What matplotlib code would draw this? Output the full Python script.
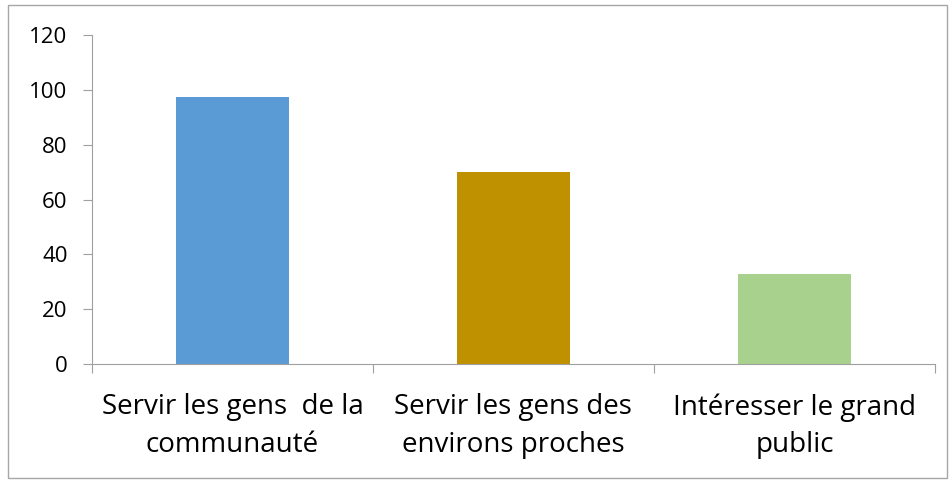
import matplotlib
matplotlib.use("Agg")
import matplotlib.pyplot as plt
from matplotlib.patches import Rectangle

categories = ["Servir les gens  de la\ncommunauté",
              "Servir les gens des\nenvirons proches",
              "Intéresser le grand\npublic"]
values = [97.5, 70, 33]
colors = ["#5B9BD5", "#BF9000", "#A9D18E"]
yticks = [0, 20, 40, 60, 80, 100, 120]

plt.rcParams['font.family'] = ['Open Sans', 'DejaVu Sans']

fig = plt.figure(figsize=(9.53, 4.83), dpi=100)
ax = fig.add_axes([0.0965, 0.2464, 0.8845, 0.6811])

x = range(len(categories))
ax.bar(x, values, width=0.4, color=colors, zorder=2)

ax.set_xlim(-0.5, len(categories) - 0.5)
ax.set_ylim(0, 120)
ax.set_yticks(yticks)
ax.tick_params(axis='y', labelsize=16, length=6.5, color='#A0A0A0', pad=11)

# category labels at centers, tick marks at boundaries
ax.set_xticks([i - 0.5 for i in range(len(categories) + 1)])
ax.set_xticklabels([])
ax.tick_params(axis='x', which='major', length=6.5, color='#A0A0A0')
ax.set_xticks(list(x), minor=True)
ax.set_xticklabels(categories, minor=True, fontsize=20, linespacing=1.45)
ax.tick_params(axis='x', which='minor', length=0, pad=21)

for s in ['top', 'right']:
    ax.spines[s].set_visible(False)
for s in ['left', 'bottom']:
    ax.spines[s].set_color('#A0A0A0')

fig.patches.append(Rectangle((0.008, 0.01), 0.986, 0.98, transform=fig.transFigure,
                             fill=False, edgecolor='#A6A6A6', linewidth=1))

fig.savefig("out.png", dpi=100)
